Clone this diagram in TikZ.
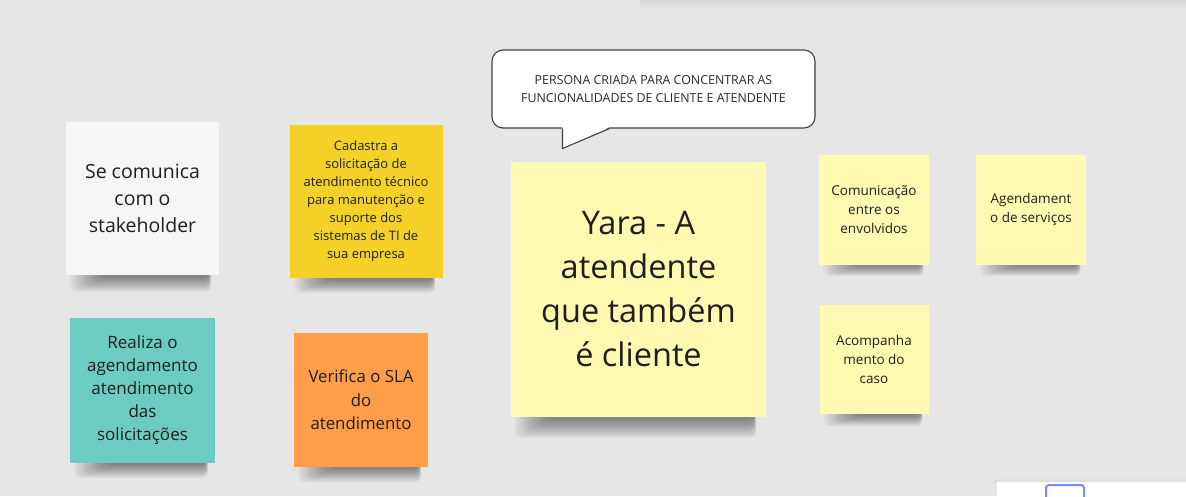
\documentclass[tikz,border=0pt]{standalone}
\usepackage{fontspec}
\setmainfont{Open Sans}
\usetikzlibrary{calc}
\definecolor{bgc}{HTML}{E6E6E6}
\definecolor{notewhite}{HTML}{F5F6F8}
\definecolor{notegold}{HTML}{F5D128}
\definecolor{noteteal}{HTML}{6CCBC3}
\definecolor{noteorange}{HTML}{FF9D48}
\definecolor{noteyellow}{HTML}{FFF9B1}
\definecolor{notetext}{HTML}{1F1F1F}
\definecolor{bubbletext}{HTML}{2A2A2A}
\definecolor{selblue}{HTML}{7B8CFF}
% soft shadow under a sticky note: left x, right x, bottom y, depth
\newcommand\stickyshadow[4]{%
  \foreach \k in {0,...,15}{%
    \fill[black, opacity=0.032, rounded corners=5pt]
      ({#1+2+2.2*\k}, {#3-6}) rectangle ({#2-0.5*#4-0.15*\k}, {#3+#4*(1-\k/16)+1});
  }}
\begin{document}
\begin{tikzpicture}[x=1pt,y=-1pt,
  note/.style={draw=none, inner sep=0pt, align=center, text=notetext,
    minimum width=#1, minimum height=#1},
  bubblebox/.style={draw=black!75, line width=1.1pt, fill=white, rounded corners=11pt,
    align=center, text=bubbletext, inner sep=0pt, minimum width=323pt, minimum height=78pt}
]
\fill[bgc] (0,0) rectangle (1186,496);
\shade[top color=black!16, bottom color=bgc] (640,0) rectangle (1186,7);
\useasboundingbox (0,0) rectangle (1186,496);

% shadows under the notes (drawn first, behind the notes)
\stickyshadow{68}{219}{275}{16}
\stickyshadow{292}{442}{278}{14}
\stickyshadow{72}{215}{463}{14}
\stickyshadow{296}{428}{467}{14}
\stickyshadow{513}{766}{417}{20}
\stickyshadow{821}{929}{264}{11}
\stickyshadow{978}{1086}{264}{11}
\stickyshadow{822}{928}{414}{11}

% sticky notes
\node[note=153pt, fill=notewhite, font=\fontsize{19.5}{27}\selectfont] (white) at (142.5,198.5)
  {Se comunica\\com o\\stakeholder};
\node[note=153pt, fill=notegold, font=\fontsize{13}{18}\selectfont] (gold) at (366,201.5)
  {Cadastra a\\solicitação de\\atendimento técnico\\para manutenção e\\suporte dos\\sistemas de TI de\\sua empresa};
\node[note=145pt, fill=noteteal, font=\fontsize{17}{23}\selectfont] (teal) at (142.5,390.5)
  {Realiza o\\agendamento\\atendimento\\das\\solicitações};
\node[note=134pt, fill=noteorange, font=\fontsize{16.8}{23.5}\selectfont] (orange) at (361,400)
  {Verifica o SLA\\do\\atendimento};
\node[note=255pt, fill=noteyellow, font=\fontsize{32.5}{44}\selectfont] (yara) at (638.5,289.5)
  {Yara - A\\atendente\\que também\\é cliente};
\node[note=110pt, fill=noteyellow, font=\fontsize{13.5}{19}\selectfont] (comm) at (874,209.5)
  {Comunicação\\entre os\\envolvidos};
\node[note=110pt, fill=noteyellow, font=\fontsize{13.5}{19}\selectfont] (agend) at (1031,209.5)
  {Agendament\\o de serviços};
\node[note=109pt, fill=noteyellow, font=\fontsize{13.5}{19}\selectfont] (acomp) at (874,359.5)
  {Acompanha\\mento do\\caso};

% speech bubble
\node[bubblebox, font=\fontsize{12.4}{18}\selectfont] (bubble) at (653.5,89)
  {PERSONA CRIADA PARA CONCENTRAR AS\\FUNCIONALIDADES DE CLIENTE E ATENDENTE};
\coordinate (tailL) at ($(bubble.south west)+(71,0)$);
\coordinate (tailR) at ($(bubble.south west)+(118,0)$);
\coordinate (tailTip) at ($(bubble.south west)+(71,20)$);
\fill[white] ($(tailL)+(0,-1.5)$) -- (tailTip) -- ($(tailR)+(0,-1.5)$) -- cycle;
\draw[black!75, line width=1.1pt, line join=miter] (tailL) -- (tailTip) -- (tailR);

% bottom-right panel
\shade[top color=bgc, bottom color=black!14] (993,477) rectangle (1186,482);
\node[fill=white, draw=none, inner sep=0pt, minimum width=189pt, minimum height=20pt,
  anchor=north west] (panel) at (997,482) {};
\draw[selblue, line width=2pt, rounded corners=3pt] ($(panel.north west)+(49,18)$) -- ($(panel.north west)+(49,3)$)
  -- ($(panel.north west)+(87,3)$) -- ($(panel.north west)+(87,18)$);
\end{tikzpicture}
\end{document}
